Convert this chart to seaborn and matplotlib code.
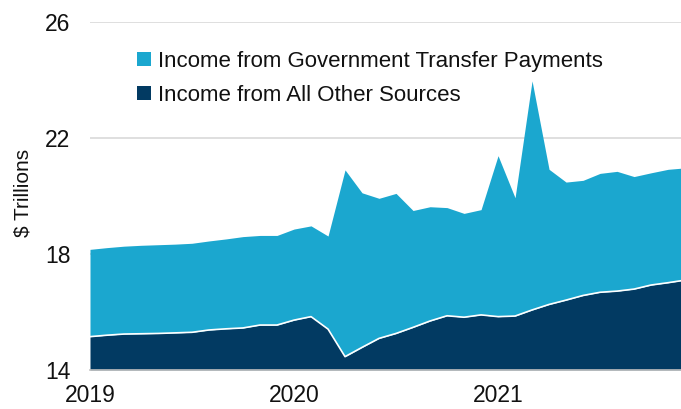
import numpy as np
import pandas as pd
import matplotlib
matplotlib.use("Agg")
import matplotlib.pyplot as plt
import seaborn as sns
from matplotlib.patches import Patch

months = pd.date_range("2019-01-01", "2021-12-01", freq="MS")
other_sources = [15.15, 15.20, 15.24, 15.25, 15.26, 15.28, 15.30, 15.38, 15.42, 15.45, 15.55, 15.55,
                 15.72, 15.84, 15.41, 14.46, 14.78, 15.09, 15.26, 15.47, 15.69, 15.87, 15.82, 15.90,
                 15.84, 15.86, 16.07, 16.26, 16.41, 16.57, 16.68, 16.72, 16.79, 16.93, 17.01, 17.10]
transfers = [3.01, 3.02, 3.03, 3.05, 3.06, 3.06, 3.07, 3.07, 3.10, 3.15, 3.09, 3.09,
             3.14, 3.13, 3.21, 6.44, 5.33, 4.83, 4.83, 4.03, 3.94, 3.73, 3.58, 3.63,
             5.55, 4.08, 7.90, 4.66, 4.07, 3.97, 4.10, 4.13, 3.88, 3.87, 3.91, 3.87]
labels = ["Income from Government Transfer Payments", "Income from All Other Sources"]
yticks = [14, 18, 22, 26]
xtick_labels = ["2019", "2020", "2021"]

col_transfer = "#1BA7CF"
col_other = "#023A62"

sns.set_theme(style="white")
plt.rcParams["font.family"] = ["Liberation Sans", "DejaVu Sans"]

df = pd.DataFrame({"x": np.arange(len(months)), "other": other_sources, "transfer": transfers})
df["total"] = df["other"] + df["transfer"]

fig = plt.figure(figsize=(6.81, 4.09), dpi=100)
ax = fig.add_axes([90 / 681, 39 / 409, 591 / 681, 348 / 409])

ax.fill_between(df["x"], 14, df["other"], color=col_other, linewidth=0, zorder=2)
ax.fill_between(df["x"], df["other"], df["total"], color=col_transfer, linewidth=0, zorder=2)
sns.lineplot(data=df, x="x", y="other", color="white", linewidth=1.2, ax=ax, zorder=3)

ax.set_ylim(14, 26)
ax.set_xlim(0, 34.76)
ax.set_yticks(yticks)
ax.set_yticklabels([str(t) for t in yticks], fontsize=16.5, color="#111111")
ax.set_xticks([0, 12, 24])
ax.set_xticklabels(xtick_labels, fontsize=16.5, color="#111111")
ax.tick_params(axis="y", length=0, pad=14)
ax.tick_params(axis="x", length=0, pad=10)
ax.set_xlabel("")
ax.set_ylabel("$ Trillions", fontsize=15, color="#111111")
ax.yaxis.set_label_coords(-0.098, 0.51)

for t in yticks[1:]:
    ax.axhline(t, color="#D9D9D9", linewidth=1.2, zorder=1)
for s in ["left", "right", "top"]:
    ax.spines[s].set_visible(False)
ax.spines["bottom"].set_color("#BFBFBF")
ax.spines["bottom"].set_linewidth(1.2)
ax.spines["bottom"].set_zorder(4)

handles = [Patch(facecolor=col_transfer, edgecolor="none"), Patch(facecolor=col_other, edgecolor="none")]
leg = ax.legend(handles, labels, loc="upper left", bbox_to_anchor=(0.046, 0.975), frameon=False,
                fontsize=16, handlelength=0.6, handleheight=0.6, handletextpad=0.35, labelspacing=0.6)
for t in leg.get_texts():
    t.set_color("#111111")

fig.savefig("out.png", dpi=100)
